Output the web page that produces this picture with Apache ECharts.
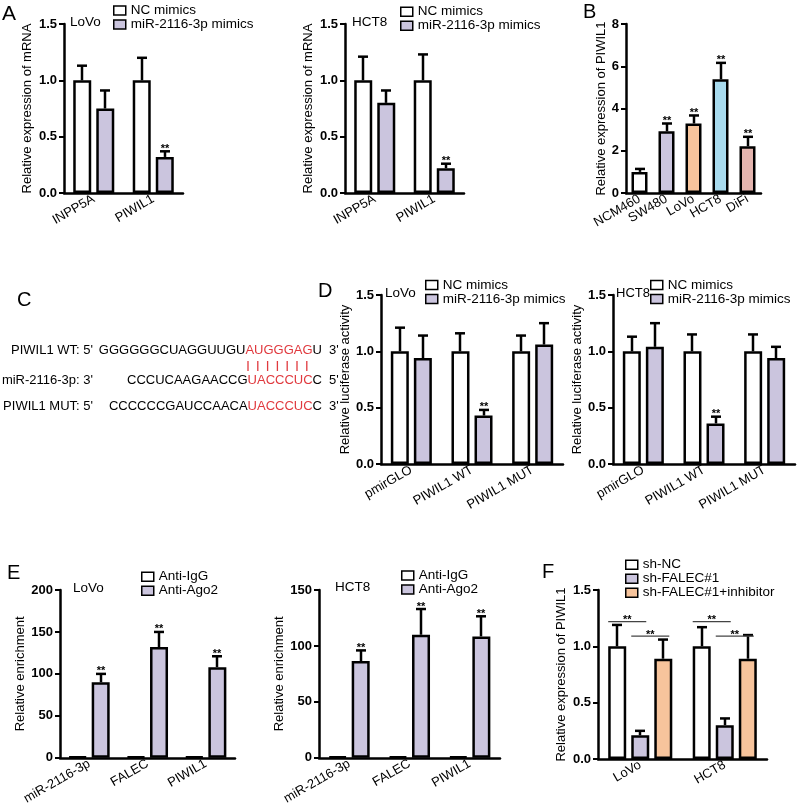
<!DOCTYPE html>
<html>
<head>
<meta charset="utf-8">
<script src="https://cdn.jsdelivr.net/npm/echarts@6/dist/echarts.min.js"></script>
<style>
  html, body { margin: 0; padding: 0; background: #fff; }
  #main { width: 800px; height: 807px; }
</style>
</head>
<body>
<div id="main"></div>
<script type="text/javascript">
    // ---- data ----
    // A: qPCR after mimics
    var aCats = ['INPP5A', 'PIWIL1'];
    var aLovoNC = [1.0, 1.0],   aLovoNCErr = [0.13, 0.20];
    var aLovoMim = [0.75, 0.32], aLovoMimErr = [0.16, 0.05], aLovoMimSig = [0, 1];
    var aHctNC = [1.0, 1.0],    aHctNCErr = [0.21, 0.23];
    var aHctMim = [0.80, 0.22], aHctMimErr = [0.11, 0.04], aHctMimSig = [0, 1];

    // B: PIWIL1 in cell lines
    var bCats = ['NCM460', 'SW480', 'LoVo', 'HCT8', 'DiFi'];
    var bVals = [1.0, 2.92, 3.29, 5.38, 2.21];
    var bErr = [0.14, 0.37, 0.38, 0.78, 0.45];
    var bSig = [0, 1, 1, 1, 1];

    // C: binding sequences [label, black part, red part, black tail, end]
    var seqRows = [
        ["PIWIL1 WT: 5'", 'GGGGGGCUAGGUUGU', 'AUGGGAG', 'U', "3'"],
        ["miR-2116-3p: 3'", 'CCCUCAAGAACCG', 'UACCCUC', 'C', "5'"],
        ["PIWIL1 MUT: 5'", 'CCCCCCGAUCCAACA', 'UACCCUC', 'C', "3'"]
    ];

    // D: luciferase
    var dCats = ['pmirGLO', 'PIWIL1 WT', 'PIWIL1 MUT'];
    var dLovoNC = [1.0, 1.0, 1.0],    dLovoNCErr = [0.21, 0.16, 0.14];
    var dLovoMim = [0.94, 0.43, 1.06], dLovoMimErr = [0.20, 0.05, 0.19], dLovoMimSig = [0, 1, 0];
    var dHctNC = [1.0, 1.0, 1.0],     dHctNCErr = [0.13, 0.15, 0.15];
    var dHctMim = [1.04, 0.36, 0.94], dHctMimErr = [0.21, 0.06, 0.10], dHctMimSig = [0, 1, 0];

    // E: RIP
    var eCats = ['miR-2116-3p', 'FALEC', 'PIWIL1'];
    var eLovoIgG = [1, 1, 1],         eLovoIgGErr = [0, 0, 0];
    var eLovoAgo = [90, 132, 108],    eLovoAgoErr = [10, 18, 13], eLovoAgoSig = [1, 1, 1];
    var eHctIgG = [1, 1, 1],          eHctIgGErr = [0, 0, 0];
    var eHctAgo = [86.5, 110, 108.5], eHctAgoErr = [9.5, 23, 18], eHctAgoSig = [1, 1, 1];

    // F: rescue
    var fCats = ['LoVo', 'HCT8'];
    var fNC = [1.0, 1.0],   fNCErr = [0.19, 0.17];
    var fSh = [0.21, 0.30], fShErr = [0.04, 0.06];
    var fInh = [0.89, 0.89], fInhErr = [0.17, 0.21];
    // [category, y value, from bar, to bar]
    var fSigPairs = [[0, 1.22, 0, 1], [0, 1.09, 1, 2], [1, 1.22, 0, 1], [1, 1.09, 1, 2]];

    // ---- styles ----
    var FONT = 'Liberation Sans';
    var WHITE = '#ffffff', LAV = '#cbc5de', PEACH = '#f7c49c', SKY = '#a8dbee', ROSE = '#e4b5af';
    var RED = '#e0393e';
    var bColors = [WHITE, LAV, PEACH, SKY, ROSE];
    var BW = 18, GAP = 0.28;            // bar width px, gap as fraction
    var STEP = BW * (1 + GAP);
    var LW = 2.5;                       // outline width

    var myChart = echarts.init(document.getElementById('main'), null, {renderer: 'canvas'});

    var grids = [
        {left: 64,  top: 24,  width: 119, height: 169},   // 0 A LoVo
        {left: 345, top: 24,  width: 119, height: 169},   // 1 A HCT8
        {left: 626, top: 24,  width: 135, height: 169},   // 2 B
        {left: 381, top: 295, width: 182, height: 169},   // 3 D LoVo
        {left: 613, top: 295, width: 182, height: 169},   // 4 D HCT8
        {left: 60,  top: 590, width: 175, height: 169},   // 5 E LoVo
        {left: 319, top: 590, width: 181, height: 169},   // 6 E HCT8
        {left: 598, top: 590, width: 169, height: 169}    // 7 F
    ];

    var xCats = [aCats, aCats, bCats, dCats, dCats, eCats, eCats, fCats];
    var yMax = [1.5, 1.5, 8, 1.5, 1.5, 200, 150, 1.5];
    var yStep = [0.5, 0.5, 2, 0.5, 0.5, 50, 50, 0.5];
    var yNames = ['Relative expression of mRNA', 'Relative expression of mRNA', 'Relative expression of PIWIL1',
        'Relative luciferase activity', 'Relative luciferase activity',
        'Relative enrichment', 'Relative enrichment', 'Relative expression of PIWIL1'];
    var yGaps = [30, 30, 18, 24, 26, 33, 31, 30];

    var xAxes = xCats.map(function (cats, i) {
        return {
            type: 'category', gridIndex: i, data: cats,
            axisLine: {lineStyle: {color: '#000', width: LW}},
            axisTick: {show: false},
            axisLabel: {interval: 0, rotate: 30, margin: 5, color: '#000', fontSize: 13, fontFamily: FONT}
        };
    });
    var yAxes = yMax.map(function (mx, i) {
        return {
            type: 'value', gridIndex: i, min: 0, max: mx, interval: yStep[i],
            name: yNames[i], nameLocation: 'middle', nameGap: yGaps[i],
            nameTextStyle: {color: '#000', fontSize: 13, fontFamily: FONT},
            axisLine: {show: true, lineStyle: {color: '#000', width: LW}},
            axisTick: {show: true, length: 5, lineStyle: {color: '#000', width: 2}},
            splitLine: {show: false},
            axisLabel: {
                color: '#000', fontSize: 13, fontWeight: 'bold', fontFamily: FONT, margin: 7,
                formatter: function (v) { return mx < 5 ? v.toFixed(1) : String(v); }
            }
        };
    });

    function bar(name, gi, vals, color) {
        return {
            type: 'bar', name: name, xAxisIndex: gi, yAxisIndex: gi, data: vals,
            barWidth: BW, barGap: (GAP * 100) + '%', z: 2, silent: true,
            itemStyle: {color: color, borderColor: '#000', borderWidth: LW}
        };
    }

    function errRender(off, capW) {
        return function (params, api) {
            var err = api.value(2);
            var base = api.coord([api.value(0), api.value(1)]);
            var top = api.coord([api.value(0), api.value(1) + err]);
            var x = Math.round(base[0] + off);
            var kids = [];
            if (err > 0) {
                kids.push({type: 'line', shape: {x1: x, y1: base[1], x2: x, y2: top[1]},
                    style: {stroke: '#000', lineWidth: LW}});
                kids.push({type: 'line', shape: {x1: x - capW / 2, y1: top[1], x2: x + capW / 2, y2: top[1]},
                    style: {stroke: '#000', lineWidth: LW}});
            }
            if (api.value(3)) {
                kids.push({type: 'text', x: x, y: top[1] + 3,
                    style: {text: '**', fill: '#000', font: 'bold 11px ' + FONT, align: 'center', verticalAlign: 'bottom'}});
            }
            return {type: 'group', children: kids};
        };
    }

    // bar index i of n in a group -> offset in px
    function err(gi, vals, errs, sig, i, n) {
        var off = (i - (n - 1) / 2) * STEP;
        return {
            type: 'custom', xAxisIndex: gi, yAxisIndex: gi, z: 3, silent: true,
            renderItem: errRender(off, 10),
            data: vals.map(function (v, k) { return [k, v, errs[k], sig ? sig[k] : 0]; })
        };
    }

    function sigRender(params, api) {
        var c = api.coord([api.value(0), api.value(1)]);
        var x1 = c[0] + (api.value(2) - 1) * STEP - 9;
        var x2 = c[0] + (api.value(3) - 1) * STEP + 6;
        return {type: 'group', children: [
            {type: 'line', shape: {x1: x1, y1: c[1], x2: x2, y2: c[1]}, style: {stroke: '#444', lineWidth: 1.2}},
            {type: 'text', x: (x1 + x2) / 2, y: c[1] + 4,
                style: {text: '**', fill: '#000', font: 'bold 11px ' + FONT, align: 'center', verticalAlign: 'bottom'}}
        ]};
    }

    var bSeriesData = bVals.map(function (v, i) { return {value: v, itemStyle: {color: bColors[i]}}; });

    var series = [
        bar('NC mimics', 0, aLovoNC, WHITE), bar('miR-2116-3p mimics', 0, aLovoMim, LAV),
        err(0, aLovoNC, aLovoNCErr, null, 0, 2), err(0, aLovoMim, aLovoMimErr, aLovoMimSig, 1, 2),
        bar('NC mimics', 1, aHctNC, WHITE), bar('miR-2116-3p mimics', 1, aHctMim, LAV),
        err(1, aHctNC, aHctNCErr, null, 0, 2), err(1, aHctMim, aHctMimErr, aHctMimSig, 1, 2),
        {type: 'bar', name: 'PIWIL1 level', xAxisIndex: 2, yAxisIndex: 2, data: bSeriesData, barWidth: 16, z: 2,
            silent: true, itemStyle: {borderColor: '#000', borderWidth: LW}},
        err(2, bVals, bErr, bSig, 0, 1),
        bar('NC mimics', 3, dLovoNC, WHITE), bar('miR-2116-3p mimics', 3, dLovoMim, LAV),
        err(3, dLovoNC, dLovoNCErr, null, 0, 2), err(3, dLovoMim, dLovoMimErr, dLovoMimSig, 1, 2),
        bar('NC mimics', 4, dHctNC, WHITE), bar('miR-2116-3p mimics', 4, dHctMim, LAV),
        err(4, dHctNC, dHctNCErr, null, 0, 2), err(4, dHctMim, dHctMimErr, dHctMimSig, 1, 2),
        bar('Anti-IgG', 5, eLovoIgG, WHITE), bar('Anti-Ago2', 5, eLovoAgo, LAV),
        err(5, eLovoIgG, eLovoIgGErr, null, 0, 2), err(5, eLovoAgo, eLovoAgoErr, eLovoAgoSig, 1, 2),
        bar('Anti-IgG', 6, eHctIgG, WHITE), bar('Anti-Ago2', 6, eHctAgo, LAV),
        err(6, eHctIgG, eHctIgGErr, null, 0, 2), err(6, eHctAgo, eHctAgoErr, eHctAgoSig, 1, 2),
        bar('sh-NC', 7, fNC, WHITE), bar('sh-FALEC#1', 7, fSh, LAV), bar('sh-FALEC#1+inhibitor', 7, fInh, PEACH),
        err(7, fNC, fNCErr, null, 0, 3), err(7, fSh, fShErr, null, 1, 3), err(7, fInh, fInhErr, null, 2, 3),
        {type: 'custom', xAxisIndex: 7, yAxisIndex: 7, z: 3, silent: true, renderItem: sigRender, data: fSigPairs}
    ];

    function legendAt(names, left, top, lh) {
        return {
            orient: 'vertical', left: left, top: top, padding: 0, itemGap: 0,
            itemWidth: 12, itemHeight: 9, icon: 'rect', selectedMode: false, data: names,
            itemStyle: {borderColor: '#000', borderWidth: 1.5},
            textStyle: {fontSize: 13.5, fontFamily: FONT, color: '#000', lineHeight: lh}
        };
    }
    var mimNames = ['NC mimics', 'miR-2116-3p mimics'];
    var ripNames = ['Anti-IgG', 'Anti-Ago2'];
    var legends = [
        legendAt(mimNames, 113, 3.5, 12),
        legendAt(mimNames, 400, 4.7, 12),
        legendAt(mimNames, 425, 278, 10),
        legendAt(mimNames, 650, 278, 10),
        legendAt(ripNames, 141, 569.75, 12.5),
        legendAt(ripNames, 401, 568.5, 13),
        legendAt(['sh-NC', 'sh-FALEC#1', 'sh-FALEC#1+inhibitor'], 625, 557.75, 12.5)
    ];

    // free text: panel letters, cell line captions, sequences
    function txt(s, x, y, size, align) {
        return {type: 'text', x: x, y: y, silent: true,
            style: {text: s, fill: '#000', font: size + 'px ' + FONT, align: align || 'left', verticalAlign: 'middle'}};
    }
    var graphics = [
        txt('A', 2, 14, 21), txt('B', 583, 12, 20), txt('C', 17, 300, 20),
        txt('D', 318, 291, 20), txt('E', 7, 573, 20), txt('F', 542, 572, 20),
        txt('LoVo', 70, 22, 13.5), txt('HCT8', 352, 22, 13.5),
        txt('LoVo', 385, 293, 13.5), txt('HCT8', 616, 293, 13),
        txt('LoVo', 73, 588, 13.5), txt('HCT8', 335, 587, 13.5)
    ];
    var rowY = [350, 380, 406];
    seqRows.forEach(function (r, i) {
        graphics.push(txt(r[0], 93, rowY[i], 13, 'right'));
        graphics.push({type: 'text', x: 322, y: rowY[i], silent: true, style: {
            text: '{k|' + r[1] + '}{r|' + r[2] + '}{k|' + r[3] + '}',
            align: 'right', verticalAlign: 'middle', font: '13px ' + FONT,
            rich: {k: {fill: '#000', fontSize: 13, fontFamily: FONT}, r: {fill: RED, fontSize: 13, fontFamily: FONT}}
        }});
        graphics.push(txt(r[4], 329, rowY[i], 13));
    });
    for (var k = 0; k < 7; k++) {
        graphics.push({type: 'line', silent: true, shape: {x1: 248 + k * 9.8, y1: 361, x2: 248 + k * 9.8, y2: 371},
            style: {stroke: RED, lineWidth: 1.3}});
    }

    var option = {
        animation: false,
        backgroundColor: '#fff',
        grid: grids,
        xAxis: xAxes,
        yAxis: yAxes,
        legend: legends,
        graphic: graphics,
        series: series
    };
    myChart.setOption(option, true);
</script>
</body>
</html>
